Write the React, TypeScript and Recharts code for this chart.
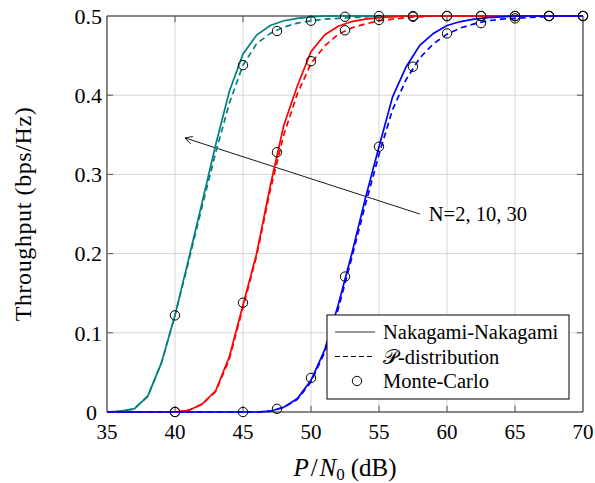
import React from 'react';
import { LineChart, Line, XAxis, YAxis, CartesianGrid, ReferenceArea, ReferenceLine } from 'recharts';

// SNR axis (dB)
const snrDb = [35, 36, 37, 38, 39, 40, 41, 42, 43, 44, 45, 46, 47, 48, 49, 50, 51, 52, 53, 54, 55, 56, 57, 58, 59, 60, 61, 62, 63, 64, 65, 66, 67, 68, 69, 70];

// N = 2
const n2Nakagami = [0, 0.001, 0.004, 0.02, 0.062, 0.122, 0.193, 0.265, 0.338, 0.405, 0.452, 0.476, 0.488, 0.494, 0.497, 0.499, 0.5, 0.5, 0.5, 0.5, 0.5, 0.5, 0.5, 0.5, 0.5, 0.5, 0.5, 0.5, 0.5, 0.5, 0.5, 0.5, 0.5, 0.5, 0.5, 0.5];
const n2PDist = [0, 0.001, 0.004, 0.02, 0.062, 0.122, 0.19, 0.26, 0.328, 0.39, 0.438, 0.465, 0.478, 0.486, 0.491, 0.494, 0.496, 0.497, 0.498, 0.499, 0.5, 0.5, 0.5, 0.5, 0.5, 0.5, 0.5, 0.5, 0.5, 0.5, 0.5, 0.5, 0.5, 0.5, 0.5, 0.5];

// N = 10
const n10Nakagami = [0, 0, 0, 0, 0, 0, 0.002, 0.01, 0.027, 0.07, 0.135, 0.2, 0.285, 0.362, 0.412, 0.455, 0.476, 0.487, 0.493, 0.496, 0.498, 0.499, 0.5, 0.5, 0.5, 0.5, 0.5, 0.5, 0.5, 0.5, 0.5, 0.5, 0.5, 0.5, 0.5, 0.5];
const n10PDist = [0, 0, 0, 0, 0, 0, 0.002, 0.01, 0.026, 0.067, 0.132, 0.197, 0.28, 0.35, 0.402, 0.44, 0.462, 0.477, 0.485, 0.49, 0.494, 0.496, 0.498, 0.499, 0.5, 0.5, 0.5, 0.5, 0.5, 0.5, 0.5, 0.5, 0.5, 0.5, 0.5, 0.5];

// N = 30
const n30Nakagami = [0, 0, 0, 0, 0, 0, 0, 0, 0, 0, 0, 0, 0.001, 0.006, 0.017, 0.04, 0.078, 0.135, 0.2, 0.27, 0.335, 0.398, 0.436, 0.463, 0.478, 0.488, 0.493, 0.496, 0.498, 0.499, 0.5, 0.5, 0.5, 0.5, 0.5, 0.5];
const n30PDist = [0, 0, 0, 0, 0, 0, 0, 0, 0, 0, 0, 0, 0.001, 0.006, 0.016, 0.038, 0.075, 0.13, 0.195, 0.262, 0.325, 0.382, 0.42, 0.447, 0.465, 0.477, 0.485, 0.49, 0.494, 0.496, 0.497, 0.498, 0.499, 0.5, 0.5, 0.5];

// Monte-Carlo
const mcSnrDb = [40, 45, 47.5, 50, 52.5, 55, 57.5, 60, 62.5, 65, 67.5, 70];
const mcN2 = [0.122, 0.438, 0.481, 0.494, 0.499, 0.5, 0.5, 0.5, 0.5, 0.5, 0.5, 0.5];
const mcN10 = [0, 0.138, 0.328, 0.443, 0.482, 0.495, 0.499, 0.5, 0.5, 0.5, 0.5, 0.5];
const mcN30 = [0, 0, 0.004, 0.043, 0.171, 0.335, 0.436, 0.478, 0.491, 0.497, 0.5, 0.5];

const xTicks = [35, 40, 45, 50, 55, 60, 65, 70];
const yTicks = [0, 0.1, 0.2, 0.3, 0.4, 0.5];
const annotationText = 'N=2, 10, 30';
const arrowTail = { x: 58.0, y: 0.25 };
const arrowHead = { x: 40.74, y: 0.346 };

const X_MIN = 35, X_MAX = 70, Y_MIN = 0, Y_MAX = 0.5;
const TICK_LEN_X = 0.45;   // in dB units (inner tick marks on left/right frame)
const TICK_LEN_Y = 0.0078; // in throughput units (inner tick marks on top/bottom frame)

const toPts = (xs: number[], ys: number[]) => xs.map((x, i) => ({ x, y: ys[i] }));

const FONT = '"Liberation Serif", "DejaVu Serif", serif';

const TEAL = '#008080';
const RED = '#ff0000';
const BLUE = '#0000ff';

const YTick = (props: any) => {
  const { x, y, payload } = props;
  const v = payload.value;
  const shift = v === 0 ? 5 : 0; // keep the "0" clear of the "35" label below
  return (
    <text x={x - shift} y={y} dy="0.355em" textAnchor="end" style={{ fontFamily: FONT, fontSize: 22, fill: '#000' }}>
      {String(v)}
    </text>
  );
};

const YLabel = (props: any) => {
  const vb = props.viewBox || { x: 0, y: 16, width: 107, height: 396 };
  const cx = 23;
  const cy = vb.y + vb.height / 2;
  return (
    <text x={cx} y={cy} transform={`rotate(-90 ${cx} ${cy})`} textAnchor="middle" dominantBaseline="central"
      style={{ fontFamily: FONT, fontSize: 24, letterSpacing: 0.6, fill: '#000' }}>
      Throughput (bps/Hz)
    </text>
  );
};

const XLabel = (props: any) => {
  const vb = props.viewBox || { x: 107, y: 412, width: 476, height: 71 };
  const cx = vb.x + vb.width / 2;
  return (
    <text x={cx} y={476} textAnchor="middle" style={{ fontFamily: FONT, fontSize: 25, fill: '#000' }}>
      <tspan fontStyle="italic">P</tspan>
      <tspan dx={2}>/</tspan>
      <tspan fontStyle="italic" dx={2}>N</tspan>
      <tspan fontSize={17} dy={4}>0</tspan>
      <tspan dy={-4} dx={6}>(dB)</tspan>
    </text>
  );
};

const ArrowShape = (props: any) => {
  const { x1, y1, x2, y2 } = props;
  const ang = Math.atan2(y2 - y1, x2 - x1);
  const L = 8;
  const a1 = ang + Math.PI - 0.5;
  const a2 = ang + Math.PI + 0.5;
  return (
    <g>
      <line x1={x1} y1={y1} x2={x2} y2={y2} stroke="#000" strokeWidth={0.9} />
      <path d={`M ${x2 + L * Math.cos(a1)} ${y2 + L * Math.sin(a1)} L ${x2} ${y2} L ${x2 + L * Math.cos(a2)} ${y2 + L * Math.sin(a2)}`}
        fill="none" stroke="#000" strokeWidth={0.9} />
      <text x={x1 + 9} y={y1} dominantBaseline="central" style={{ fontFamily: FONT, fontSize: 20.5, fill: '#000' }}>
        {annotationText}
      </text>
    </g>
  );
};

const LegendBox = () => (
  <svg width={244} height={86} style={{ position: 'absolute', left: 326, top: 314 }}>
    <rect x={1} y={1} width={242} height={84} fill="#fff" stroke="#000" strokeWidth={1} />
    <line x1={9} y1={18} x2={49} y2={18} stroke="#777" strokeWidth={1.4} />
    <text x={57} y={18} dominantBaseline="central" style={{ fontFamily: FONT, fontSize: 20.5 }}>Nakagami-Nakagami</text>
    <line x1={9} y1={42.5} x2={49} y2={42.5} stroke="#000" strokeWidth={1} strokeDasharray="5 3" />
    <text x={57} y={42.5} dominantBaseline="central" style={{ fontFamily: FONT, fontSize: 20.5 }}>𝒫-distribution</text>
    <circle cx={31} cy={67} r={4.7} fill="none" stroke="#000" strokeWidth={1} />
    <text x={57} y={67} dominantBaseline="central" style={{ fontFamily: FONT, fontSize: 20.5 }}>Monte-Carlo</text>
  </svg>
);

export default function App() {
  const lineProps = { type: 'linear' as const, dataKey: 'y', dot: false, activeDot: false, isAnimationActive: false, strokeWidth: 1.7 };
  const mcDot = { r: 4.7, fill: 'none', stroke: '#000', strokeWidth: 1 };
  const tickStroke = '#555';
  return (
    <div style={{ position: 'absolute', left: 0, top: 0, width: 595, height: 483, background: '#fff' }}>
      <LineChart width={595} height={483} margin={{ top: 16, right: 12, bottom: 0, left: 0 }}>
        <CartesianGrid stroke="#d6d6d6" strokeWidth={1} />
        <XAxis type="number" dataKey="x" domain={[X_MIN, X_MAX]} ticks={xTicks} height={71} tickLine={false}
          axisLine={false} tickSize={0} tickMargin={12} interval={0}
          tick={{ fontFamily: FONT, fontSize: 21, fill: '#000' }} label={<XLabel />} />
        <YAxis type="number" domain={[Y_MIN, Y_MAX]} ticks={yTicks} width={107} tickLine={false}
          axisLine={false} tickSize={0} tickMargin={5} interval={0}
          tick={<YTick />} label={<YLabel />} />
        {yTicks.slice(1, -1).map((t) => (
          <ReferenceLine key={`yl${t}`} segment={[{ x: X_MIN, y: t }, { x: X_MIN + TICK_LEN_X, y: t }]} stroke={tickStroke} />
        ))}
        {yTicks.slice(1, -1).map((t) => (
          <ReferenceLine key={`yr${t}`} segment={[{ x: X_MAX - TICK_LEN_X, y: t }, { x: X_MAX, y: t }]} stroke={tickStroke} />
        ))}
        {xTicks.slice(1, -1).map((t) => (
          <ReferenceLine key={`xb${t}`} segment={[{ x: t, y: Y_MIN }, { x: t, y: Y_MIN + TICK_LEN_Y }]} stroke={tickStroke} />
        ))}
        {xTicks.slice(1, -1).map((t) => (
          <ReferenceLine key={`xt${t}`} segment={[{ x: t, y: Y_MAX - TICK_LEN_Y }, { x: t, y: Y_MAX }]} stroke={tickStroke} />
        ))}
        <ReferenceArea x1={X_MIN} x2={X_MAX} y1={Y_MIN} y2={Y_MAX} fill="none" stroke="#222" strokeWidth={1} />
        <ReferenceLine segment={[arrowTail, arrowHead]} shape={ArrowShape} />
        <Line {...lineProps} data={toPts(snrDb, n2Nakagami)} stroke={TEAL} />
        <Line {...lineProps} data={toPts(snrDb, n2PDist)} stroke={TEAL} strokeDasharray="6 4" />
        <Line {...lineProps} data={toPts(snrDb, n10Nakagami)} stroke={RED} />
        <Line {...lineProps} data={toPts(snrDb, n10PDist)} stroke={RED} strokeDasharray="6 4" />
        <Line {...lineProps} data={toPts(snrDb, n30Nakagami)} stroke={BLUE} />
        <Line {...lineProps} data={toPts(snrDb, n30PDist)} stroke={BLUE} strokeDasharray="6 4" />
        <Line type="linear" dataKey="y" data={toPts(mcSnrDb, mcN2)} stroke="none" dot={mcDot} activeDot={false} isAnimationActive={false} />
        <Line type="linear" dataKey="y" data={toPts(mcSnrDb, mcN10)} stroke="none" dot={mcDot} activeDot={false} isAnimationActive={false} />
        <Line type="linear" dataKey="y" data={toPts(mcSnrDb, mcN30)} stroke="none" dot={mcDot} activeDot={false} isAnimationActive={false} />
      </LineChart>
      <LegendBox />
    </div>
  );
}
